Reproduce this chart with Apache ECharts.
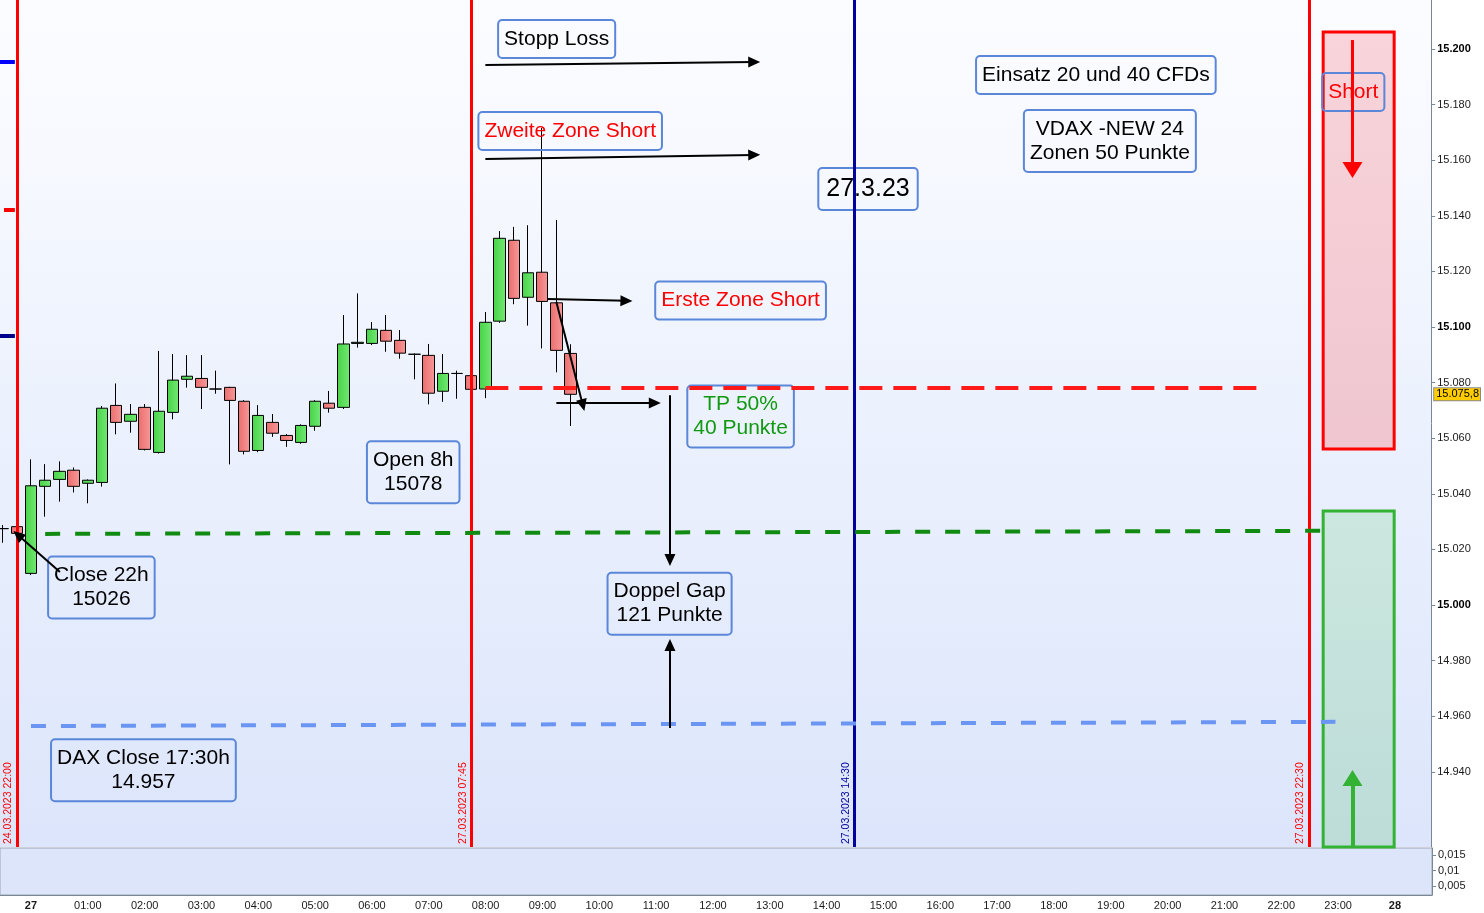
<!DOCTYPE html>
<html>
<head>
<meta charset="utf-8">
<title>DAX 27.03.2023</title>
<script src="https://cdn.jsdelivr.net/npm/echarts@6/dist/echarts.min.js"></script>
<style>
  html, body { margin: 0; padding: 0; background: #ffffff; }
  #chart { width: 1484px; height: 913px; }
</style>
</head>
<body>
<div id="chart"></div>
<script>
// 15 min candles, minutes from 27.03.2023 00:00 (weekend gap removed)
const times = [-30, -15, 0, 15, 30, 45, 60, 75, 90, 105, 120, 135, 150, 165, 180, 195,
  210, 225, 240, 255, 270, 285, 300, 315, 330, 345, 360, 375, 390, 405, 420, 435,
  450, 465, 480, 495, 510, 525, 540, 555, 570];
const opens = [15027.5, 15028.2, 15011.4, 15042.7, 15045.2, 15048.5, 15043.8, 15044.1,
  15071.8, 15066.1, 15071.1, 15054.9, 15069.3, 15081.2, 15081.5, 15077.7, 15078.3,
  15073.3, 15055.6, 15065.7, 15061.0, 15058.5, 15064.3, 15072.6, 15071.1, 15094.1,
  15094.1, 15098.8, 15095.2, 15090.2, 15089.8, 15076.9, 15083.3, 15082.5, 15077.7,
  15102.1, 15131.2, 15110.7, 15119.7, 15108.7, 15090.5];
const closes = [15027.5, 15025.8, 15042.9, 15044.9, 15048.1, 15042.7, 15044.9, 15070.8,
  15065.7, 15068.6, 15056.0, 15069.7, 15080.9, 15082.3, 15078.3, 15077.7, 15073.6,
  15055.3, 15068.2, 15061.8, 15059.2, 15064.6, 15073.3, 15070.8, 15093.9, 15094.5,
  15099.2, 15094.9, 15090.6, 15090.2, 15076.2, 15083.3, 15083.3, 15077.6, 15101.7,
  15131.9, 15110.3, 15119.5, 15109.2, 15091.6, 15075.8];
const lows = [15022.4, 15025.5, 15010.8, 15031.8, 15037.2, 15040.5, 15036.6, 15042.6,
  15061.4, 15062.0, 15055.6, 15054.5, 15066.8, 15078.2, 15070.5, 15076.0, 15050.6,
  15054.2, 15055.0, 15060.5, 15056.9, 15058.0, 15062.7, 15069.2, 15070.5, 15092.6,
  15093.5, 15091.1, 15088.6, 15081.2, 15072.2, 15073.1, 15074.2, 15077.0, 15074.4,
  15101.5, 15108.2, 15100.5, 15092.3, 15083.7, 15064.4];
const highs = [15028.8, 15028.5, 15052.4, 15050.7, 15051.7, 15049.5, 15045.2, 15071.6,
  15079.7, 15072.3, 15072.3, 15091.4, 15090.3, 15089.9, 15089.9, 15084.3, 15078.5,
  15073.7, 15071.9, 15068.7, 15061.5, 15065.0, 15073.7, 15077.0, 15104.3, 15112.1,
  15101.8, 15104.3, 15098.9, 15090.5, 15093.9, 15090.3, 15084.3, 15083.0, 15105.4,
  15134.5, 15136.0, 15136.6, 15171.6, 15138.5, 15093.8];
const lastPrice = 15075.8;

const priceTicks = [14940, 14960, 14980, 15000, 15020, 15040, 15060, 15080, 15100,
  15120, 15140, 15160, 15180, 15200, 15220];
const hourTicks = [0, 60, 120, 180, 240, 300, 360, 420, 480, 540, 600, 660, 720, 780,
  840, 900, 960, 1020, 1080, 1140, 1200, 1260, 1320, 1380, 1440];
const volTicks = [0.005, 0.01, 0.015];

// vertical time markers: [minute, label]
const redMarkers = [[-15, '24.03.2023 22:00'], [465, '27.03.2023 07:45'], [1350, '27.03.2023 22:30']];
const blueMarkers = [[870, '27.03.2023 14:30']];

// drawn lines: [x1, y1, x2, y2]
const openLine = [480, 15078.1, 1295, 15078.1];
const closeLine = [15, 15025.6, 1363, 15026.7];
const daxCloseLine = [0, 14956.5, 1378, 14958.0];
const blackArrows = [
  [480, 15194.2, 764, 15195.3],
  [480, 15160.4, 764, 15161.9],
  [546, 15110.1, 629, 15109.4],
  [555, 15109.0, 583, 15071.9],
  [555, 15072.7, 659, 15072.7],
  [675, 15075.5, 675, 15016.2],
  [675, 14955.8, 675, 14985.6],
  [30.6, 15011.9, -13.7, 15025.2]
];
const shortArrow = [1396, 15203.2, 1396, 15156.5];
const longArrow = [1396, 14913, 1396, 14937.8];

// zones: [x1, y1, x2, y2]
const shortZone = [1365, 15206.1, 1440, 15056.1];
const longZone = [1365, 15033.8, 1440, 14913];

// text notes: [x, y, text]
const blackNotes = [
  [555.3, 15203.6, 'Stopp Loss'],
  [403.8, 15047.8, 'Open 8h\n15078'],
  [74.4, 15006.3, 'Close 22h\n15026'],
  [674.6, 15000.5, 'Doppel Gap\n121 Punkte'],
  [118.8, 14940.6, 'DAX Close 17:30h\n14.957'],
  [1124.9, 15190.6, 'Einsatz 20 und 40 CFDs'],
  [1139.7, 15166.9, 'VDAX -NEW 24\nZonen 50 Punkte']
];
const redNotes = [
  [569.6, 15170.5, 'Zweite Zone Short'],
  [749.6, 15109.5, 'Erste Zone Short'],
  [1396.8, 15184.5, 'Short']
];
const greenNotes = [[749.6, 15067.8, 'TP 50%\n40 Punkte']];
const dateNote = [884.2, 15149.6, '27.3.23'];

const xMin = -32.7, xMax = 1479.1;
const yMin = 14913, yMax = 15217.6;
const font = "'Liberation Sans', Arial, sans-serif";

function fmtPrice(v) {
  const t = Math.floor(v / 1000);
  const r = Math.round(v - t * 1000);
  return t + '.' + String(r).padStart(3, '0');
}

function arrow(a, color, width, size) {
  return [
    { coord: [a[0], a[1]], symbol: 'none' },
    { coord: [a[2], a[3]], symbol: 'triangle', symbolSize: size,
      lineStyle: { color: color, width: width, type: 'solid' } }
  ];
}

function dashLine(a, color, dash) {
  return [
    { coord: [a[0], a[1]] },
    { coord: [a[2], a[3]], lineStyle: { color: color, width: 4, type: dash } }
  ];
}

function note(n, color) {
  return {
    coord: [n[0], n[1]],
    label: { formatter: n[2], color: color }
  };
}

const chart = echarts.init(document.getElementById('chart'));

const upColor = new echarts.graphic.LinearGradient(0, 0, 1, 0, [
  { offset: 0, color: '#46d346' }, { offset: 1, color: '#74e874' }
]);
const downColor = new echarts.graphic.LinearGradient(0, 0, 1, 0, [
  { offset: 0, color: '#ec6c6c' }, { offset: 1, color: '#f69a9a' }
]);

const markerLines = [];
redMarkers.forEach(function (m) {
  markerLines.push({ xAxis: m[0], lineStyle: { color: '#ff0000', width: 3, type: 'solid' },
    label: { show: true, formatter: m[1], color: '#ff0000' } });
});
blueMarkers.forEach(function (m) {
  markerLines.push({ xAxis: m[0], lineStyle: { color: '#00009c', width: 3, type: 'solid' },
    label: { show: true, formatter: m[1], color: '#00009c' } });
});
markerLines.push(dashLine(openLine, '#ff1a1a', [23, 11]));
markerLines.push(dashLine(closeLine, '#118a11', [15, 15]));
markerLines.push(dashLine(daxCloseLine, '#6b95f3', [15, 15]));
// old levels cut at the left edge
markerLines.push(dashLine([xMin, 15195.3, -17, 15195.3], '#0000ff', 'solid'));
markerLines.push(dashLine([xMin, 15096.8, -17, 15096.8], '#00008b', 'solid'));
markerLines.push(dashLine([-28.5, 15142.1, -17, 15142.1], '#ff0000', 'solid'));
blackArrows.forEach(function (a) { markerLines.push(arrow(a, '#000000', 2, [11, 12])); });
markerLines.push(arrow(shortArrow, '#ff0000', 3, [20, 16]));
markerLines.push(arrow(longArrow, '#33b233', 4, [20, 16]));

const notePoints = [];
blackNotes.forEach(function (n) { notePoints.push(note(n, '#000000')); });
redNotes.forEach(function (n) { notePoints.push(note(n, '#ff0000')); });
greenNotes.forEach(function (n) { notePoints.push(note(n, '#119911')); });
notePoints.push({
  coord: [dateNote[0], dateNote[1]],
  label: { formatter: dateNote[2], color: '#000000', fontSize: 25, lineHeight: 28, padding: [7, 8] }
});

const option = {
  animation: false,
  backgroundColor: '#ffffff',
  grid: [
    {
      left: 0, right: 52, top: 0, height: 847, show: true, borderWidth: 0,
      backgroundColor: new echarts.graphic.LinearGradient(0, 0, 0, 1, [
        { offset: 0, color: '#fbfcff' },
        { offset: 0.19, color: '#f7f9ff' },
        { offset: 0.3, color: '#f2f6fe' },
        { offset: 0.5, color: '#ebf1fd' },
        { offset: 0.75, color: '#e4ebfc' },
        { offset: 1, color: '#dce5fb' }
      ])
    },
    {
      left: 0, right: 52, top: 848, height: 47, show: true,
      backgroundColor: '#dde5fa', borderColor: '#9aa5b3', borderWidth: 1
    }
  ],
  xAxis: [
    { gridIndex: 0, type: 'value', min: xMin, max: xMax, show: false },
    {
      gridIndex: 1, type: 'value', min: xMin, max: xMax,
      axisLine: { show: true, onZero: false, lineStyle: { color: '#7a8796' } },
      axisTick: { show: false },
      splitLine: { show: false },
      axisLabel: {
        customValues: hourTicks,
        margin: 5,
        fontSize: 11,
        fontFamily: font,
        color: '#1a1a1a',
        formatter: function (v) {
          if (v === 0) return '{b|27}';
          if (v === 1440) return '{b|28}';
          return String(v / 60).padStart(2, '0') + ':00';
        },
        rich: { b: { fontWeight: 'bold', fontSize: 11, fontFamily: font, color: '#1a1a1a' } }
      }
    }
  ],
  yAxis: [
    {
      gridIndex: 0, type: 'value', position: 'right', min: yMin, max: yMax,
      splitLine: { show: false },
      axisLine: { show: true, onZero: false, lineStyle: { color: '#7a8796' } },
      axisTick: { show: true, customValues: priceTicks, length: 4, lineStyle: { color: '#7a8796' } },
      axisLabel: {
        customValues: priceTicks,
        margin: 6,
        fontSize: 11,
        fontFamily: font,
        color: '#1a1a1a',
        formatter: function (v) {
          const s = fmtPrice(v);
          return v % 100 === 0 ? '{b|' + s + '}' : s;
        },
        rich: { b: { fontWeight: 'bold', fontSize: 11, fontFamily: font, color: '#000' } }
      }
    },
    {
      gridIndex: 0, type: 'value', position: 'right', min: yMin, max: yMax,
      splitLine: { show: false }, axisLine: { show: false, onZero: false }, axisTick: { show: false },
      axisLabel: {
        customValues: [lastPrice],
        margin: 3,
        fontSize: 11,
        fontFamily: font,
        color: '#000',
        backgroundColor: '#ffcc00',
        borderColor: '#8a8a8a',
        borderWidth: 1,
        padding: [1, 1, 0, 2],
        formatter: function () { return '15.075,8'; }
      }
    },
    {
      gridIndex: 1, type: 'value', position: 'right', min: 0.0021, max: 0.01726,
      splitLine: { show: false },
      axisLine: { show: true, onZero: false, lineStyle: { color: '#7a8796' } },
      axisTick: { show: true, customValues: volTicks, length: 4, lineStyle: { color: '#7a8796' } },
      axisLabel: {
        customValues: volTicks,
        margin: 6,
        fontSize: 11,
        fontFamily: font,
        color: '#1a1a1a',
        formatter: function (v) { return String(v).replace('.', ','); }
      }
    }
  ],
  series: [
    {
      type: 'candlestick',
      xAxisIndex: 0,
      yAxisIndex: 0,
      barWidth: 12,
      data: times.map(function (t, i) { return [t, opens[i], closes[i], lows[i], highs[i]]; }),
      encode: { x: 0, y: [1, 2, 3, 4] },
      itemStyle: {
        color: upColor, color0: downColor,
        borderColor: '#000000', borderColor0: '#000000', borderWidth: 1
      },
      markArea: {
        silent: true,
        label: { show: false },
        data: [
          [{ coord: [shortZone[0], shortZone[1]],
             itemStyle: { color: new echarts.graphic.LinearGradient(0, 0, 0, 1, [
               { offset: 0, color: '#f9d4da' }, { offset: 1, color: '#efc6d0' }]),
               borderColor: '#ff0000', borderWidth: 3, opacity: 1 } },
           { coord: [shortZone[2], shortZone[3]] }],
          [{ coord: [longZone[0], longZone[1]],
             itemStyle: { color: new echarts.graphic.LinearGradient(0, 0, 0, 1, [
               { offset: 0, color: '#cce7df' }, { offset: 1, color: '#bddcd8' }]),
               borderColor: '#33b233', borderWidth: 3, opacity: 1 } },
           { coord: [longZone[2], longZone[3]] }]
        ]
      },
      markLine: {
        silent: true,
        z: 6,
        symbol: ['none', 'none'],
        precision: 4,
        label: { show: false, position: 'insideStartTop', fontSize: 10.5, fontFamily: font, distance: 3 },
        data: markerLines
      },
      markPoint: {
        silent: true,
        z: 4,
        symbol: 'circle',
        symbolSize: 1,
        itemStyle: { color: 'rgba(0,0,0,0)' },
        label: {
          show: true,
          position: 'inside',
          fontSize: 21,
          fontFamily: font,
          lineHeight: 24,
          align: 'center',
          backgroundColor: 'rgba(255,255,255,0)',
          borderColor: '#5b87d9',
          borderWidth: 1,
          borderRadius: 4,
          padding: [7, 6]
        },
        data: notePoints
      }
    }
  ]
};

chart.setOption(option);
</script>
</body>
</html>
